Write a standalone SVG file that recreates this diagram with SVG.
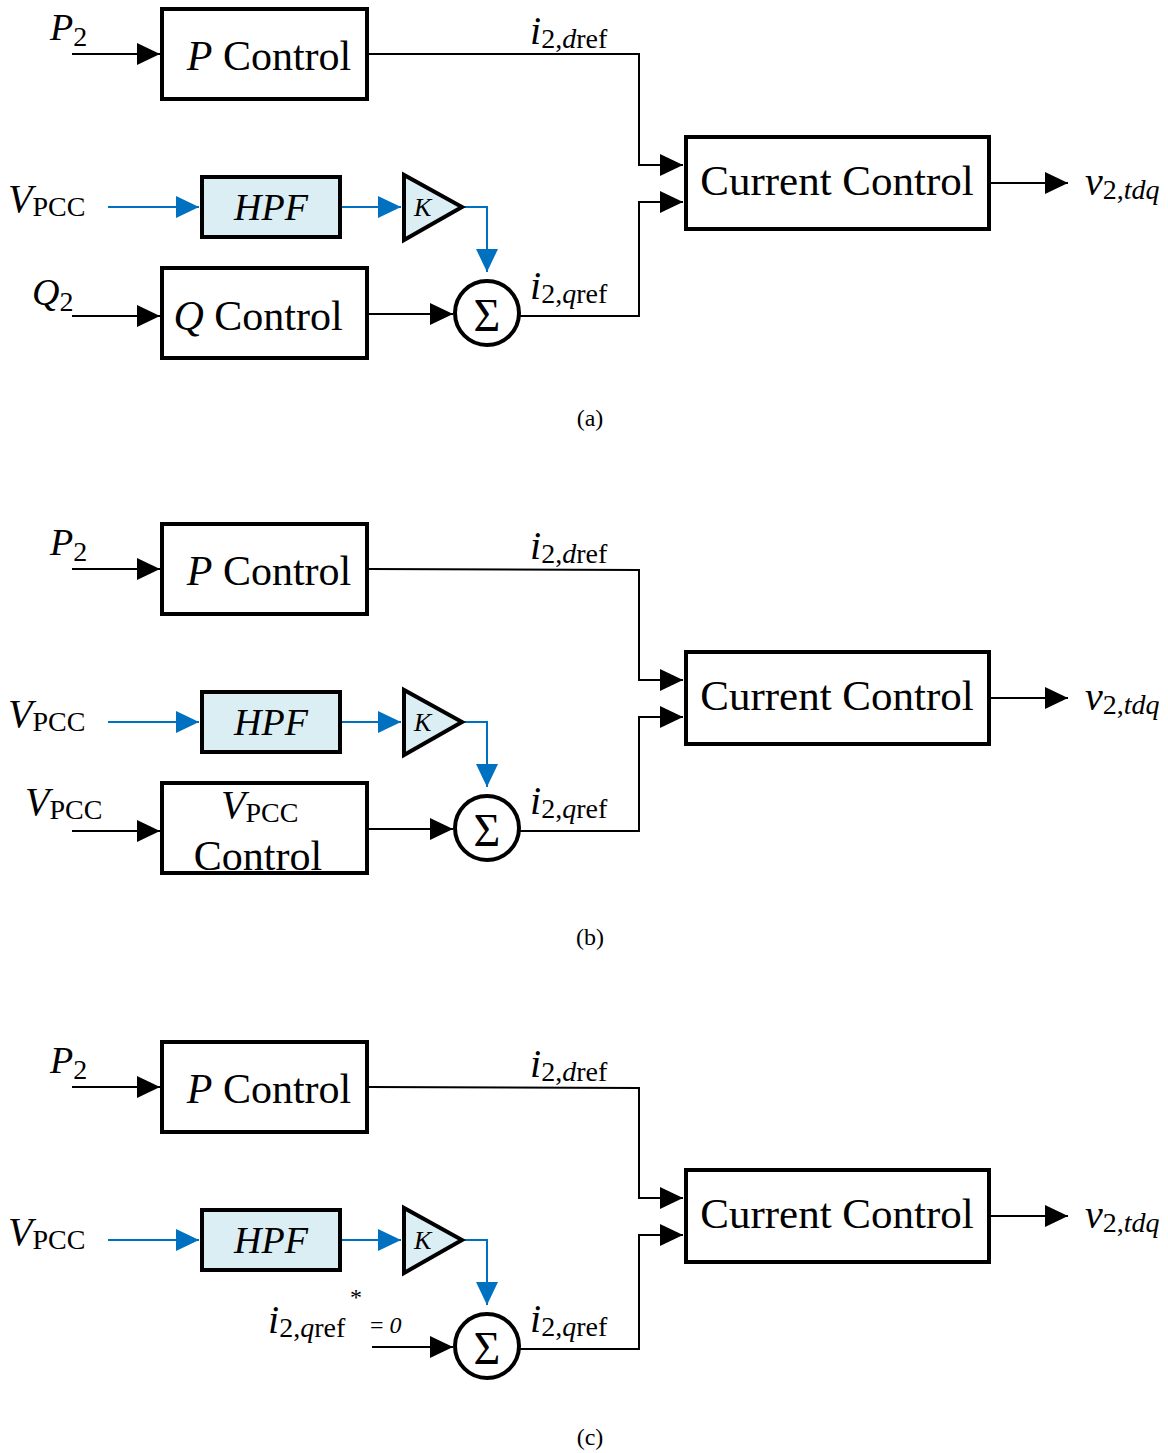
<svg xmlns="http://www.w3.org/2000/svg" width="1168" height="1453" viewBox="0 0 1168 1453">
<style>
text{font-family:"Liberation Serif","Times New Roman",serif;fill:#000}
.box{fill:#fff;stroke:#000;stroke-width:4}
.blu{fill:#DBEEF4;stroke:#000;stroke-width:4}
.ln{fill:none;stroke:#000;stroke-width:2}
.bl{fill:none;stroke:#0070C0;stroke-width:2}
.big{font-size:42px}
.cc{font-size:43px}
.it{font-style:italic}
.lab{font-size:40px}
.sub{font-size:28px}
.cap{font-size:24px}
</style>
<defs>
<marker id="ab" markerUnits="userSpaceOnUse" markerWidth="24" markerHeight="22" refX="23" refY="11" orient="auto"><path d="M0,0 L23,11 L0,22 z" fill="#000"/></marker>
<marker id="au" markerUnits="userSpaceOnUse" markerWidth="24" markerHeight="22" refX="23" refY="11" orient="auto"><path d="M0,0 L23,11 L0,22 z" fill="#0070C0"/></marker>
</defs>

<!-- Panel (a) -->
<g id="panel-a">
<g id="connectors-a">
<line class="ln" x1="72" y1="54" x2="160" y2="54" marker-end="url(#ab)"/>
<polyline class="ln" points="368,54 639,54 639,165 683,165" marker-end="url(#ab)"/>
<line class="ln" x1="990" y1="183" x2="1068" y2="183" marker-end="url(#ab)"/>
<line class="bl" x1="108" y1="207" x2="199" y2="207" marker-end="url(#au)"/>
<line class="bl" x1="341" y1="207" x2="401" y2="207" marker-end="url(#au)"/>
<polyline class="bl" points="463,207 487,207 487,272" marker-end="url(#au)"/>
<line class="ln" x1="72" y1="316" x2="160" y2="316" marker-end="url(#ab)"/>
<line class="ln" x1="368" y1="314" x2="453" y2="314" marker-end="url(#ab)"/>
<polyline class="ln" points="519,316 639,316 639,202 683,202" marker-end="url(#ab)"/>
</g>
<g id="a-p2"><text x="50" y="40"><tspan class="it" font-size="38">P</tspan><tspan class="sub" dy="6">2</tspan></text></g>
<g id="a-pcontrol"><rect class="box" x="162" y="9" width="205" height="90"/><text class="big" x="269" y="70" text-anchor="middle"><tspan class="it">P</tspan> Control</text></g>
<g id="a-idref"><text x="530" y="44"><tspan class="it lab">i</tspan><tspan class="sub" dy="4">2,</tspan><tspan class="sub it">d</tspan><tspan class="sub">ref</tspan></text></g>
<g id="a-current"><rect class="box" x="686" y="137" width="303" height="92"/><text class="cc" x="837" y="195" text-anchor="middle">Current Control</text></g>
<g id="a-v2"><text x="1085" y="195"><tspan class="it lab">v</tspan><tspan class="sub" dy="4">2,</tspan><tspan class="sub it">tdq</tspan></text></g>
<g id="a-vpcc"><text x="8" y="212"><tspan class="it lab">V</tspan><tspan class="sub" dy="4">PCC</tspan></text></g>
<g id="a-hpf"><rect class="blu" x="202" y="177" width="138" height="60"/><text class="it" font-size="38" x="271" y="220" text-anchor="middle">HPF</text></g>
<g id="a-k"><polygon class="blu" points="404,175 404,240 462,207"/><text class="it" font-size="26" x="414" y="216">K</text></g>
<g id="a-sum"><circle class="box" cx="487" cy="313" r="32"/><text x="487" y="331" font-size="46" text-anchor="middle">Σ</text></g>
<g id="a-q2"><text x="32" y="305"><tspan class="it" font-size="38">Q</tspan><tspan class="sub" dy="6">2</tspan></text></g>
<g id="a-qcontrol"><rect class="box" x="162" y="268" width="205" height="90"/><text class="big" x="258" y="330" text-anchor="middle"><tspan class="it">Q</tspan> Control</text></g>
<g id="a-iqref"><text x="530" y="299"><tspan class="it lab">i</tspan><tspan class="sub" dy="4">2,</tspan><tspan class="sub it">q</tspan><tspan class="sub">ref</tspan></text></g>
<g id="a-cap"><text class="cap" x="590" y="426" text-anchor="middle">(a)</text></g>
</g>

<!-- Panel (b) -->
<g id="panel-b" transform="translate(0,515)">
<g id="connectors-b">
<line class="ln" x1="72" y1="54" x2="160" y2="54" marker-end="url(#ab)"/>
<polyline class="ln" points="368,54 639,55 639,165 683,165" marker-end="url(#ab)"/>
<line class="ln" x1="990" y1="183" x2="1068" y2="183" marker-end="url(#ab)"/>
<line class="bl" x1="108" y1="207" x2="199" y2="207" marker-end="url(#au)"/>
<line class="bl" x1="341" y1="207" x2="401" y2="207" marker-end="url(#au)"/>
<polyline class="bl" points="463,207 487,207 487,272" marker-end="url(#au)"/>
<line class="ln" x1="72" y1="316" x2="160" y2="316" marker-end="url(#ab)"/>
<line class="ln" x1="368" y1="314" x2="453" y2="314" marker-end="url(#ab)"/>
<polyline class="ln" points="519,316 639,316 639,202 683,202" marker-end="url(#ab)"/>
</g>
<g id="b-p2"><text x="50" y="40"><tspan class="it" font-size="38">P</tspan><tspan class="sub" dy="6">2</tspan></text></g>
<g id="b-pcontrol"><rect class="box" x="162" y="9" width="205" height="90"/><text class="big" x="269" y="70" text-anchor="middle"><tspan class="it">P</tspan> Control</text></g>
<g id="b-idref"><text x="530" y="44"><tspan class="it lab">i</tspan><tspan class="sub" dy="4">2,</tspan><tspan class="sub it">d</tspan><tspan class="sub">ref</tspan></text></g>
<g id="b-current"><rect class="box" x="686" y="137" width="303" height="92"/><text class="cc" x="837" y="195" text-anchor="middle">Current Control</text></g>
<g id="b-v2"><text x="1085" y="195"><tspan class="it lab">v</tspan><tspan class="sub" dy="4">2,</tspan><tspan class="sub it">tdq</tspan></text></g>
<g id="b-vpcc"><text x="8" y="212"><tspan class="it lab">V</tspan><tspan class="sub" dy="4">PCC</tspan></text></g>
<g id="b-hpf"><rect class="blu" x="202" y="177" width="138" height="60"/><text class="it" font-size="38" x="271" y="220" text-anchor="middle">HPF</text></g>
<g id="b-k"><polygon class="blu" points="404,175 404,240 462,207"/><text class="it" font-size="26" x="414" y="216">K</text></g>
<g id="b-sum"><circle class="box" cx="487" cy="313" r="32"/><text x="487" y="331" font-size="46" text-anchor="middle">Σ</text></g>
<g id="b-vpcc2"><text x="25" y="300"><tspan class="it lab">V</tspan><tspan class="sub" dy="4">PCC</tspan></text></g>
<g id="b-vcontrol"><rect class="box" x="162" y="268" width="205" height="90"/><text x="221" y="303"><tspan class="it lab">V</tspan><tspan class="sub" dy="4">PCC</tspan></text><text class="big" x="258" y="355" text-anchor="middle">Control</text></g>
<g id="b-iqref"><text x="530" y="299"><tspan class="it lab">i</tspan><tspan class="sub" dy="4">2,</tspan><tspan class="sub it">q</tspan><tspan class="sub">ref</tspan></text></g>
<g id="b-cap"><text class="cap" x="590" y="430" text-anchor="middle">(b)</text></g>
</g>

<!-- Panel (c) -->
<g id="panel-c" transform="translate(0,1033)">
<g id="connectors-c">
<line class="ln" x1="72" y1="54" x2="160" y2="54" marker-end="url(#ab)"/>
<polyline class="ln" points="368,54 639,55 639,165 683,165" marker-end="url(#ab)"/>
<line class="ln" x1="990" y1="183" x2="1068" y2="183" marker-end="url(#ab)"/>
<line class="bl" x1="108" y1="207" x2="199" y2="207" marker-end="url(#au)"/>
<line class="bl" x1="341" y1="207" x2="401" y2="207" marker-end="url(#au)"/>
<polyline class="bl" points="463,207 487,207 487,272" marker-end="url(#au)"/>
<line class="ln" x1="372" y1="314" x2="453" y2="314" marker-end="url(#ab)"/>
<polyline class="ln" points="519,316 639,316 639,202 683,202" marker-end="url(#ab)"/>
</g>
<g id="c-p2"><text x="50" y="40"><tspan class="it" font-size="38">P</tspan><tspan class="sub" dy="6">2</tspan></text></g>
<g id="c-pcontrol"><rect class="box" x="162" y="9" width="205" height="90"/><text class="big" x="269" y="70" text-anchor="middle"><tspan class="it">P</tspan> Control</text></g>
<g id="c-idref"><text x="530" y="44"><tspan class="it lab">i</tspan><tspan class="sub" dy="4">2,</tspan><tspan class="sub it">d</tspan><tspan class="sub">ref</tspan></text></g>
<g id="c-current"><rect class="box" x="686" y="137" width="303" height="92"/><text class="cc" x="837" y="195" text-anchor="middle">Current Control</text></g>
<g id="c-v2"><text x="1085" y="195"><tspan class="it lab">v</tspan><tspan class="sub" dy="4">2,</tspan><tspan class="sub it">tdq</tspan></text></g>
<g id="c-vpcc"><text x="8" y="212"><tspan class="it lab">V</tspan><tspan class="sub" dy="4">PCC</tspan></text></g>
<g id="c-hpf"><rect class="blu" x="202" y="177" width="138" height="60"/><text class="it" font-size="38" x="271" y="220" text-anchor="middle">HPF</text></g>
<g id="c-k"><polygon class="blu" points="404,175 404,240 462,207"/><text class="it" font-size="26" x="414" y="216">K</text></g>
<g id="c-sum"><circle class="box" cx="487" cy="313" r="32"/><text x="487" y="331" font-size="46" text-anchor="middle">Σ</text></g>
<g id="c-iqref0"><text x="268" y="300"><tspan class="it lab">i</tspan><tspan class="sub" dy="4">2,</tspan><tspan class="sub it">q</tspan><tspan class="sub">ref</tspan></text><text x="350" y="272" font-size="24">*</text><text x="370" y="300" font-size="24" fill="#333"><tspan>= </tspan><tspan class="it">0</tspan></text></g>
<g id="c-iqref"><text x="530" y="299"><tspan class="it lab">i</tspan><tspan class="sub" dy="4">2,</tspan><tspan class="sub it">q</tspan><tspan class="sub">ref</tspan></text></g>
<g id="c-cap"><text class="cap" x="590" y="412" text-anchor="middle">(c)</text></g>
</g>
</svg>
